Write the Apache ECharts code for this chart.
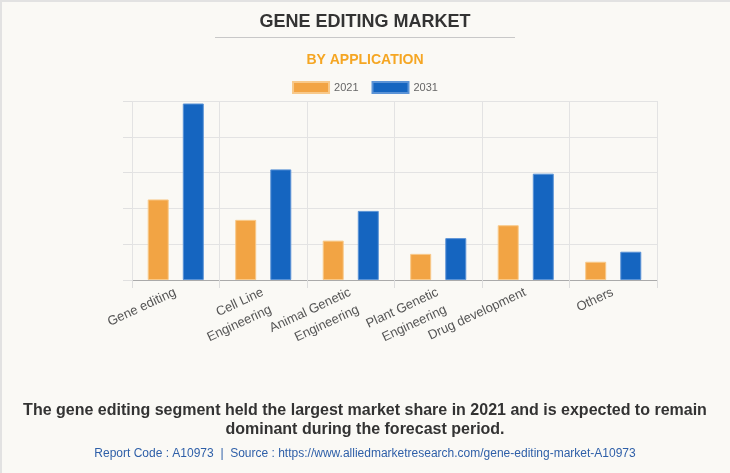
<!DOCTYPE html>
<html><head><meta charset="utf-8">
<script src="https://cdn.jsdelivr.net/npm/echarts@6/dist/echarts.min.js"></script>
<style>
html,body{margin:0;padding:0;background:#faf9f5;}
#wrap{position:relative;width:730px;height:473px;}
#c{width:730px;height:473px;}
#frame{position:absolute;left:0;top:0;width:730px;height:473px;box-sizing:border-box;border-top:2px solid #e2e2e2;border-left:2px solid #e2e2e2;pointer-events:none;}
</style></head>
<body><div id="wrap"><div id="c"></div><div id="frame"></div></div>
<script>
const categories = ['Gene editing', 'Cell Line\nEngineering', 'Animal Genetic\nEngineering', 'Plant Genetic\nEngineering', 'Drug development', 'Others'];
const values2021 = [2.25, 1.68, 1.10, 0.73, 1.53, 0.51];
const values2031 = [4.93, 3.09, 1.93, 1.17, 2.97, 0.79];
const seriesNames = ['2021', '2031'];

const FONT = 'Liberation Sans, Arial, sans-serif';
const chart = echarts.init(document.getElementById('c'), null, {renderer: 'canvas'});
chart.setOption({
  backgroundColor: '#faf9f5',
  animation: false,
  title: [
    {text: 'GENE EDITING MARKET', left: 'center', top: 8,
     textStyle: {fontFamily: FONT, fontWeight: 'bold', fontSize: 18, color: '#333'}},
    {text: 'BY APPLICATION', left: 'center', top: 48,
     textStyle: {fontFamily: FONT, fontWeight: 'bold', fontSize: 14, color: '#f5a623'}}
  ],
  graphic: [
    {type: 'line', shape: {x1: 215, y1: 37.5, x2: 515, y2: 37.5}, style: {stroke: '#c8c8c8', lineWidth: 1}},
    {type: 'text', x: 365, y: 411, style: {text: 'The gene editing segment held the largest market share in 2021 and is expected to remain',
      font: 'bold 16px ' + FONT, fill: '#333', textAlign: 'center', textVerticalAlign: 'middle'}},
    {type: 'text', x: 365, y: 430, style: {text: 'dominant during the forecast period.',
      font: 'bold 16px ' + FONT, fill: '#333', textAlign: 'center', textVerticalAlign: 'middle'}},
    {type: 'text', x: 365, y: 454, style: {text: 'Report Code : A10973  |  Source : https://www.alliedmarketresearch.com/gene-editing-market-A10973',
      font: '12px ' + FONT, fill: '#2e5fa8', textAlign: 'center', textVerticalAlign: 'middle'}}
  ],
  legend: {
    top: 76, left: 'center', itemWidth: 36, itemHeight: 11, itemGap: 13, icon: 'rect',
    textStyle: {fontFamily: FONT, fontSize: 11, color: '#666'},
    data: seriesNames
  },
  grid: {left: 132, right: 73, top: 101, bottom: 193, containLabel: false},
  xAxis: {
    type: 'category', data: categories,
    axisLine: {lineStyle: {color: '#aaa'}},
    axisTick: {show: true, length: 8, lineStyle: {color: '#ddd'}},
    splitLine: {show: true, lineStyle: {color: '#e3e3e3'}},
    axisLabel: {interval: 0, rotate: 25, fontSize: 13, color: '#555', margin: 1,
      fontFamily: FONT, lineHeight: 19, verticalAlign: 'top', padding: [0, 5, 0, 0]}
  },
  yAxis: {
    type: 'value', min: 0, max: 5, interval: 1,
    axisLine: {show: false},
    axisTick: {show: true, length: 9, lineStyle: {color: '#e0e0e0'}},
    axisLabel: {show: false},
    splitLine: {show: true, lineStyle: {color: '#e3e3e3'}}
  },
  series: [
    {name: seriesNames[0], type: 'bar', data: values2021, barWidth: 21, barGap: '67%',
     itemStyle: {color: '#f2a444', borderColor: '#f8c98a', borderWidth: 1}},
    {name: seriesNames[1], type: 'bar', data: values2031, barWidth: 21,
     itemStyle: {color: '#1565c0', borderColor: '#5b93d6', borderWidth: 1}}
  ]
});
</script></body></html>
